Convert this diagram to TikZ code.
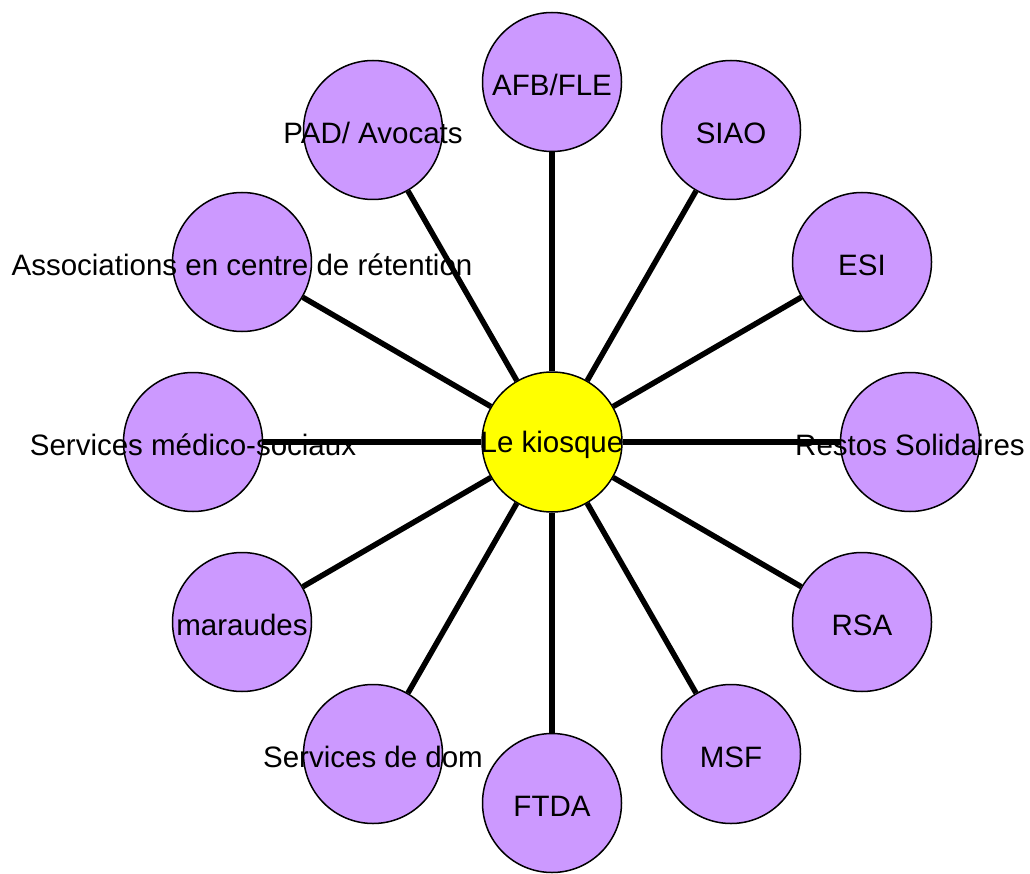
\documentclass[tikz,border=0pt]{standalone}
\usepackage{fontspec}
\setmainfont{Liberation Sans}
\usepackage{xcolor}
\definecolor{lilas}{HTML}{CC99FF}
\definecolor{jaune}{HTML}{FFFF00}
\begin{document}
\begin{tikzpicture}[x=1pt,y=-1pt,
  bubble/.style={draw,circle,line width=1.5pt,fill=lilas,minimum size=139pt,inner sep=0pt},
  link/.style={line width=5.5pt},
  txt/.style={font=\fontsize{29.5}{34}\selectfont,inner sep=0pt,yshift=-3pt}]
\useasboundingbox (0,0) rectangle (1030,874);
\node[bubble,fill=jaune,minimum size=140pt](k) at (552,442){};
\node[bubble](afb) at (552,82){};
\node[bubble](siao) at (731,130){};
\node[bubble](esi) at (862,262){};
\node[bubble](restos) at (910,442){};
\node[bubble](rsa) at (862,622){};
\node[bubble](msf) at (731,754){};
\node[bubble](ftda) at (552,803){};
\node[bubble](dom) at (373,754){};
\node[bubble](maraudes) at (242,622){};
\node[bubble](medico) at (193,442){};
\node[bubble](assoc) at (242,262){};
\node[bubble](pad) at (373,130){};
\foreach \n in {afb,siao,esi,restos,rsa,msf,ftda,dom,maraudes,medico,assoc,pad}
  \draw[link] (k) -- (\n);
\node[txt] at (k){Le kiosque};
\node[txt] at (afb){AFB/FLE};
\node[txt] at (siao){SIAO};
\node[txt] at (esi){ESI};
\node[txt] at (restos){Restos Solidaires};
\node[txt] at (rsa){RSA};
\node[txt] at (msf){MSF};
\node[txt] at (ftda){FTDA};
\node[txt] at (dom){Services de dom};
\node[txt] at (maraudes){maraudes};
\node[txt] at (medico){Services médico-sociaux};
\node[txt] at (assoc){Associations en centre de rétention};
\node[txt] at (pad){PAD/ Avocats};
\end{tikzpicture}
\end{document}
